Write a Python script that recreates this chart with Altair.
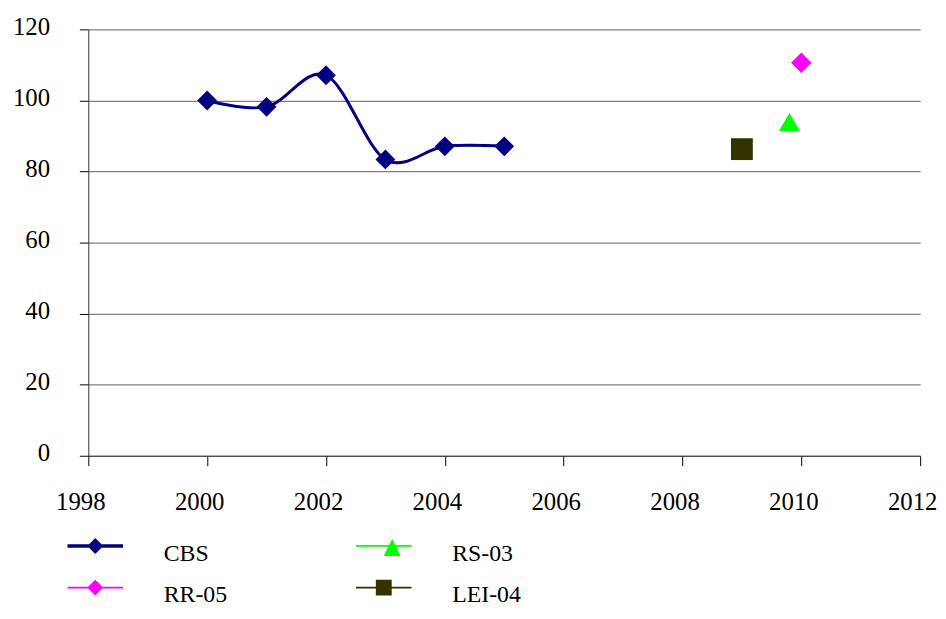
import altair as alt
import pandas as pd

# --- data ---
cbs_years = [2000, 2001, 2002, 2003, 2004, 2005]
cbs_values = [100.0, 98.2, 107.1, 83.4, 87.1, 87.1]

other_names = ["LEI-04", "RS-03", "RR-05"]
other_years = [2009.0, 2009.8, 2010.0]
other_values = [86.3, 93.9, 110.6]

# legend entries are filled column by column
legend_order = ["CBS", "RR-05", "RS-03", "LEI-04"]
x_ticks = [1998, 2000, 2002, 2004, 2006, 2008, 2010, 2012]
y_ticks = [0, 20, 40, 60, 80, 100, 120]

# --- styles ---
series_colors = ["#000080", "#FF00FF", "#00FF00", "#333300"]
point_shapes = ["diamond", "diamond", "triangle-up", "square"]
point_sizes = [400, 484, 484, 400]
legend_shapes = [
    "M-2.8,-0.975H2.8V-0.625H-2.8Z M0,-1.6L0.8,-0.8L0,0L-0.8,-0.8Z",
    "M-2.8,-0.885H2.8V-0.715H-2.8Z M0,-1.6L0.8,-0.8L0,0L-0.8,-0.8Z",
    "M-2.8,-0.885H2.8V-0.715H-2.8Z M0.85,-1.5L1.7,0.2L0,0.2Z",
    "M-2.8,-0.885H2.8V-0.715H-2.8Z M-0.8,-1.6H0.8V0H-0.8Z",
]
FONT = "Liberation Serif"

points_df = pd.DataFrame({
    "year": cbs_years + other_years,
    "value": cbs_values + other_values,
    "series": ["CBS"] * len(cbs_years) + other_names,
})
line_df = pd.DataFrame({"year": cbs_years, "value": cbs_values, "series": ["CBS"] * len(cbs_years)})
legend_df = pd.DataFrame({"series": legend_order})

x_enc = alt.X(
    "year:Q",
    scale=alt.Scale(domain=[1998, 2012], nice=False, zero=False),
    axis=alt.Axis(values=x_ticks, format="d", title=None, grid=False, tickSize=10,
                  labelPadding=24, labelOffset=-8, labelFlush=False, labelOverlap=False,
                  labelFont=FONT, labelFontSize=25, labelColor="black"),
)
y_enc = alt.Y(
    "value:Q",
    scale=alt.Scale(domain=[0, 120], nice=False),
    axis=alt.Axis(values=y_ticks, title=None, grid=True, tickSize=9,
                  labelPadding=30, labelOffset=-3, labelFlush=False, labelOverlap=False,
                  labelFont=FONT, labelFontSize=25, labelColor="black"),
)

line = alt.Chart(line_df).mark_line(
    interpolate="cardinal", color="#000080", strokeWidth=3
).encode(x=x_enc, y=y_enc)

points = alt.Chart(points_df).mark_point(filled=True, opacity=1).encode(
    x=x_enc,
    y=y_enc,
    color=alt.Color("series:N", scale=alt.Scale(domain=legend_order, range=series_colors), legend=None),
    shape=alt.Shape("series:N", scale=alt.Scale(domain=legend_order, range=point_shapes), legend=None),
    size=alt.Size("series:N", scale=alt.Scale(domain=legend_order, range=point_sizes), legend=None),
)

def make_legend():
    return alt.Legend(
        title=None, orient="none", legendX=-5, legendY=517, columns=2,
        columnPadding=129, rowPadding=14, symbolSize=400, symbolStrokeWidth=0,
        labelOffset=57, labelFont=FONT, labelFontSize=24, labelColor="black",
        padding=0, labelLimit=300, symbolOpacity=1,
    )

legend_layer = alt.Chart(legend_df).transform_filter("false").mark_point(filled=True, opacity=1).encode(
    color=alt.Color("series:N", scale=alt.Scale(domain=legend_order, range=series_colors),
                    legend=make_legend()),
    shape=alt.Shape("series:N", scale=alt.Scale(domain=legend_order, range=legend_shapes),
                    legend=make_legend()),
)

chart = alt.layer(line, points, legend_layer).resolve_scale(
    color="independent", shape="independent", size="independent"
).properties(
    width=839,
    height=430,
    padding={"left": 81, "top": 19, "right": 18, "bottom": 154},
    autosize=alt.AutoSizeParams(type="none"),
    background="white",
).configure_view(strokeWidth=0).configure_axis(
    domainColor="#333333", domainWidth=1, tickColor="#000000", tickWidth=1,
    gridColor="#808080", gridWidth=1.2,
)

chart.save("out.html", embed_options={"renderer": "svg", "actions": False})
